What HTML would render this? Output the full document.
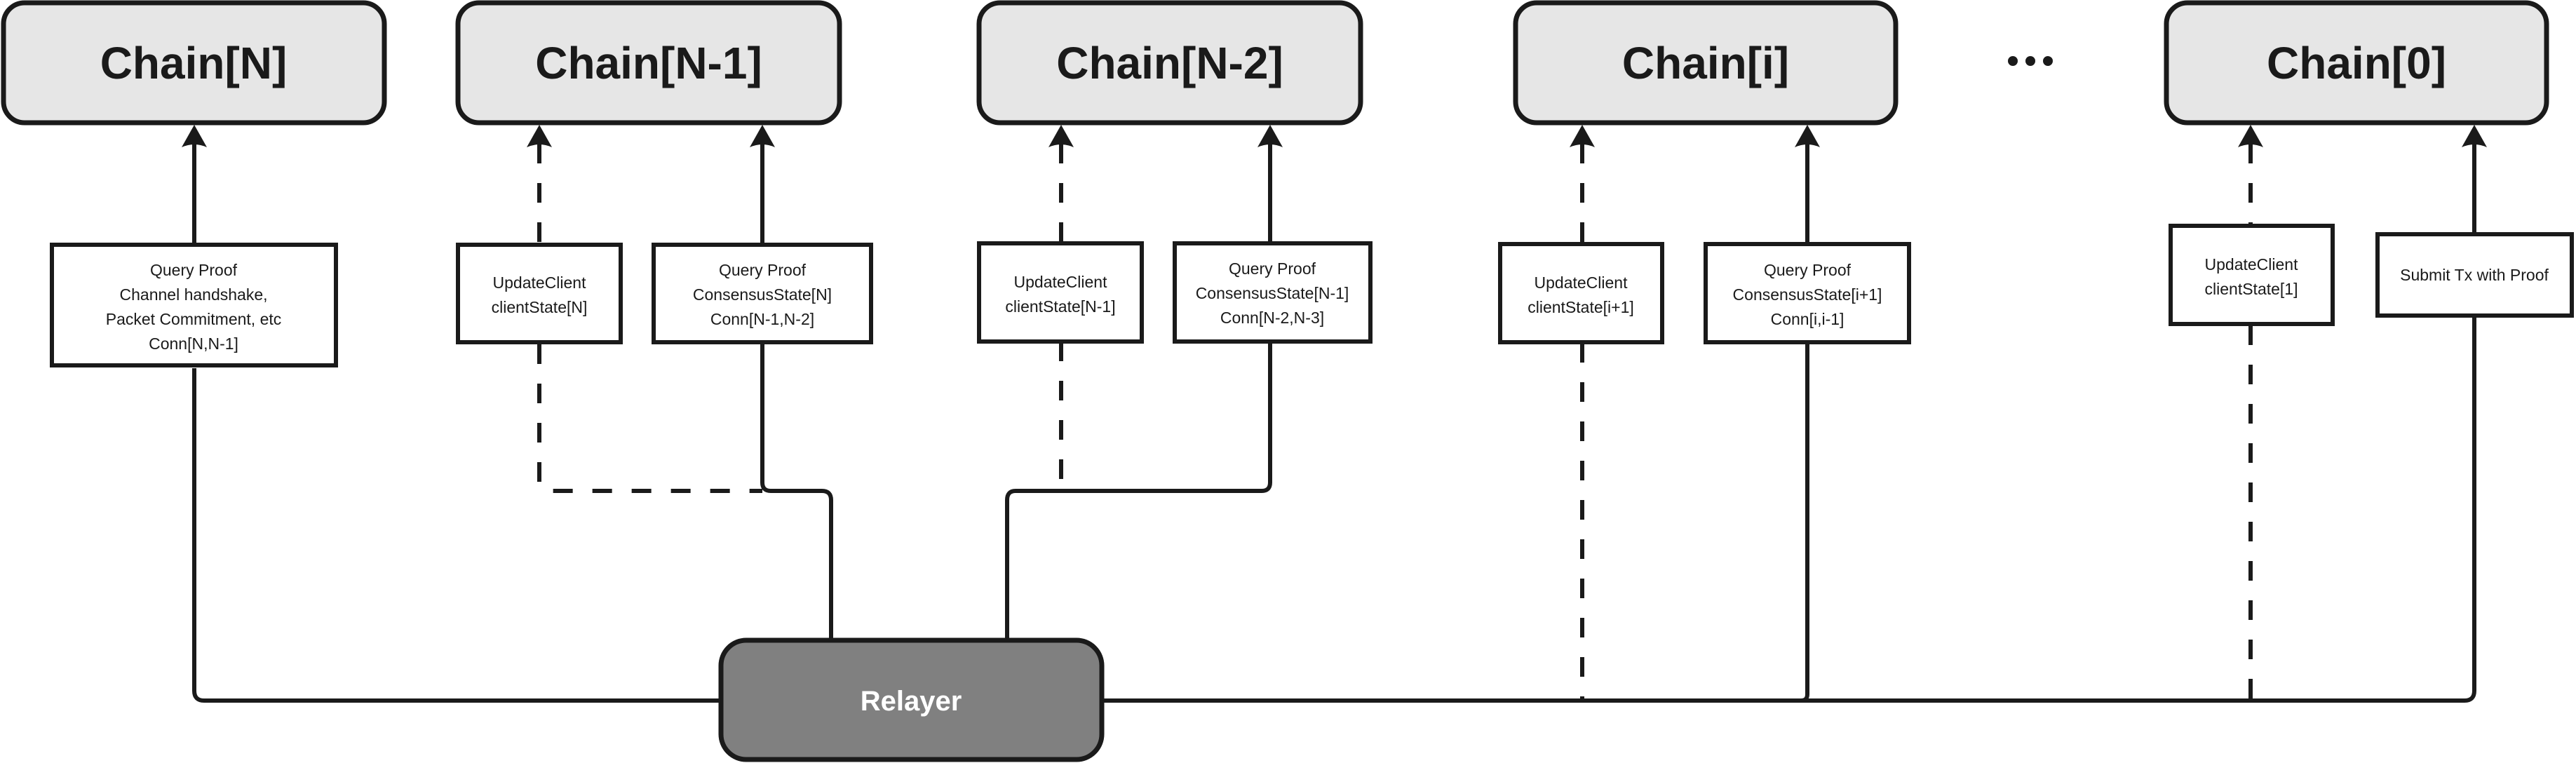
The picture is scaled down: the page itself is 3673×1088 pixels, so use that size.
<!DOCTYPE html>
<html><head><meta charset="utf-8"><style>
html,body{margin:0;padding:0;background:#fff}
svg{display:block}
text{font-family:"Liberation Sans",sans-serif}
</style></head><body>
<svg width="3673" height="1088" viewBox="0 0 3673 1088" xmlns="http://www.w3.org/2000/svg">
<defs>
<path id="ah" d="M0,0 L-18,32 Q0,24 18,32 Z" fill="#1a1a1a"/>
</defs>
<g stroke="#1a1a1a" stroke-width="7" fill="#e6e6e6">
<rect x="5" y="4" width="543" height="171" rx="30"/>
<rect x="653" y="4" width="544" height="171" rx="30"/>
<rect x="1396" y="4" width="544" height="171" rx="30"/>
<rect x="2161" y="4" width="542" height="171" rx="30"/>
<rect x="3089" y="4" width="542" height="171" rx="30"/>
</g>
<g font-weight="bold" font-size="64" text-anchor="middle" fill="#1a1a1a">
<text x="276" y="112">Chain[N]</text>
<text x="925" y="112">Chain[N-1]</text>
<text x="1668" y="112">Chain[N-2]</text>
<text x="2432" y="112">Chain[i]</text>
<text x="3360" y="112">Chain[0]</text>
</g>
<g fill="#1a1a1a"><circle cx="2870" cy="87" r="7"/><circle cx="2895" cy="87" r="7"/><circle cx="2920" cy="87" r="7"/></g>

<use href="#ah" x="277" y="178"/>
<use href="#ah" x="769" y="178"/>
<use href="#ah" x="1087" y="178"/>
<use href="#ah" x="1513" y="178"/>
<use href="#ah" x="1811" y="178"/>
<use href="#ah" x="2256" y="178"/>
<use href="#ah" x="2577" y="178"/>
<use href="#ah" x="3209" y="178"/>
<use href="#ah" x="3528" y="178"/>

<g stroke="#1a1a1a" stroke-width="6" fill="none">
<line x1="277" y1="205" x2="277" y2="349"/>
<line x1="1087" y1="205" x2="1087" y2="349"/>
<line x1="1811" y1="205" x2="1811" y2="347"/>
<line x1="2577" y1="205" x2="2577" y2="348"/>
<line x1="3528" y1="205" x2="3528" y2="334"/>
<g stroke-dasharray="28 28">
<line x1="769" y1="205" x2="769" y2="349"/>
<line x1="1513" y1="205" x2="1513" y2="347"/>
<line x1="2256" y1="205" x2="2256" y2="348"/>
<line x1="3209" y1="205" x2="3209" y2="322"/>
</g>
<path d="M277,525 V985 Q277,999 291,999 H1026"/>
<path d="M1087,491 V688 Q1087,700 1099,700 H1172 Q1185,700 1185,713 V911"/>
<path d="M1811,487 V688 Q1811,700 1799,700 H1448 Q1436,700 1436,713 V911"/>
<path d="M1572,999 H3514 Q3528,999 3528,985 V452"/>
<path d="M2577,489 V990 Q2577,999 2568,999"/>
<g stroke-dasharray="28 28">
<path d="M769,491 V688 Q769,700 781,700 H1087"/>
<line x1="1513" y1="487" x2="1513" y2="700"/>
<line x1="2256" y1="489" x2="2256" y2="999"/>
<line x1="3209" y1="464" x2="3209" y2="999"/>
</g>
</g>

<g stroke="#1a1a1a" stroke-width="6" fill="#fff">
<rect x="74" y="349" width="405" height="172"/>
<rect x="653" y="349" width="232" height="139"/>
<rect x="932" y="349" width="310" height="139"/>
<rect x="1396" y="347" width="232" height="140"/>
<rect x="1675" y="347" width="279" height="140"/>
<rect x="2139" y="348" width="231" height="140"/>
<rect x="2432" y="348" width="290" height="140"/>
<rect x="3095" y="322" width="231" height="140"/>
<rect x="3390" y="334" width="277" height="116"/>
</g>
<g font-size="23" text-anchor="middle" fill="#1a1a1a">
<text x="276" y="393">Query Proof</text>
<text x="276" y="428">Channel handshake,</text>
<text x="276" y="463">Packet Commitment, etc</text>
<text x="276" y="498">Conn[N,N-1]</text>
<text x="769" y="411">UpdateClient</text>
<text x="769" y="446">clientState[N]</text>
<text x="1087" y="393">Query Proof</text>
<text x="1087" y="428">ConsensusState[N]</text>
<text x="1087" y="463">Conn[N-1,N-2]</text>
<text x="1512" y="410">UpdateClient</text>
<text x="1512" y="445">clientState[N-1]</text>
<text x="1814" y="391">Query Proof</text>
<text x="1814" y="426">ConsensusState[N-1]</text>
<text x="1814" y="461">Conn[N-2,N-3]</text>
<text x="2254" y="411">UpdateClient</text>
<text x="2254" y="446">clientState[i+1]</text>
<text x="2577" y="393">Query Proof</text>
<text x="2577" y="428">ConsensusState[i+1]</text>
<text x="2577" y="463">Conn[i,i-1]</text>
<text x="3210" y="385">UpdateClient</text>
<text x="3210" y="420">clientState[1]</text>
<text x="3528" y="400">Submit Tx with Proof</text>
</g>

<rect x="1028" y="913" width="543" height="170" rx="36" fill="#808080" stroke="#1a1a1a" stroke-width="7"/>
<text x="1299" y="1013" font-size="40" font-weight="bold" fill="#fff" text-anchor="middle">Relayer</text>
</svg>
</body></html>
